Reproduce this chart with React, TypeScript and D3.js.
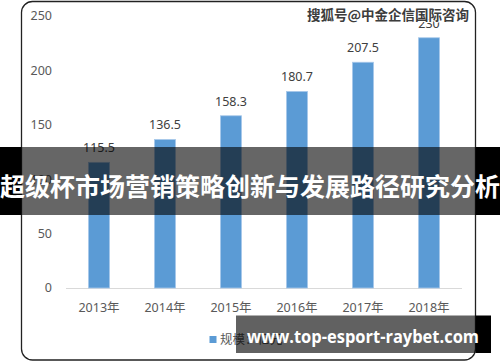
import React from "react";
import * as d3 from "d3";

const categories = ["2013年", "2014年", "2015年", "2016年", "2017年", "2018年"];
const values = [115.5, 136.5, 158.3, 180.7, 207.5, 230];
const valueLabels = ["115.5", "136.5", "158.3", "180.7", "207.5", "230"];
const yTicks = [0, 50, 100, 150, 200, 250];
const legendLabel = "规模：亿元";
const titleText = "超级杯市场营销策略创新与发展路径研究分析";
const watermarkText = "搜狐号@中金企信国际咨询";
const siteText = "www.top-esport-raybet.com";

const W = 500;
const H = 362;
const FONT = "'Noto Sans', 'Noto Sans CJK SC', sans-serif";

export default function App() {
  const x = d3
    .scaleBand<string>()
    .domain(categories)
    .range([66, 462])
    .paddingInner(0.68)
    .paddingOuter(0.34);
  const y = d3.scaleLinear().domain([0, 250]).range([288, 16]);

  const chartL = 21.5;
  const chartR = 475.5;

  return (
    <svg
      width={W}
      height={H}
      style={{ position: "absolute", left: 0, top: 0, background: "#fff" }}
      fontFamily={FONT}
    >
      <rect x={0} y={0} width={W} height={H} fill="#fff" />
      {/* chart frame */}
      <rect
        x={chartL}
        y={1.5}
        width={chartR - chartL}
        height={358.5}
        rx={11}
        ry={11}
        fill="#fff"
        stroke="#222"
        strokeWidth={1.3}
      />
      {/* y tick labels */}
      {yTicks.map((t) => (
        <text
          key={t}
          x={52}
          y={y(t)}
          dy="0.35em"
          textAnchor="end"
          fontSize={12.5}
          fill="#595959"
        >
          {t}
        </text>
      ))}
      {/* baseline */}
      <line x1={66} x2={462} y1={y(0) + 0.5} y2={y(0) + 0.5} stroke="#d9d9d9" strokeWidth={1} />
      {/* bars */}
      {categories.map((c, i) => (
        <rect
          key={c}
          x={x(c)!}
          y={y(values[i])}
          width={x.bandwidth()}
          height={y(0) - y(values[i])}
          fill="#5b9bd5"
          stroke="#a9c9ea"
          strokeWidth={0.8}
        />
      ))}
      {/* value labels */}
      {categories.map((c, i) => (
        <text
          key={c}
          x={x(c)! + x.bandwidth() / 2}
          y={y(values[i]) - 10}
          textAnchor="middle"
          fontSize={12.5}
          fill="#404040"
        >
          {valueLabels[i]}
        </text>
      ))}
      {/* x labels */}
      {categories.map((c) => (
        <text
          key={c}
          x={x(c)! + x.bandwidth() / 2}
          y={307.5}
          dy="0.35em"
          textAnchor="middle"
          fontSize={12.5}
          fill="#595959"
        >
          {c}
        </text>
      ))}
      {/* legend */}
      <rect x={209.5} y={336} width={7} height={7} fill="#5b9bd5" />
      <text x={220} y={339.5} dy="0.35em" fontSize={12.5} fill="#595959">
        {legendLabel}
      </text>
      {/* watermark */}
      <text
        x={388}
        y={15}
        dy="0.35em"
        textAnchor="middle"
        fontSize={13.5}
        fontWeight="bold"
        fill="#3c3c3c"
        stroke="#fff"
        strokeWidth={2}
        paintOrder="stroke"
        fontFamily="'Noto Sans CJK SC', sans-serif"
      >
        {watermarkText}
      </text>
      {/* title band */}
      <rect x={0} y={147} width={chartL} height={68} fill="#000" />
      <rect x={chartR} y={147} width={W - chartR} height={68} fill="#000" />
      <rect x={chartL} y={147} width={chartR - chartL} height={68} fill="#000" fillOpacity={0.6} />
      <text
        x={250}
        y={185}
        dominantBaseline="central"
        textAnchor="middle"
        fontSize={25}
        fontWeight="bold"
        fill="#fff"
        fontFamily="'Noto Sans CJK SC', sans-serif"
      >
        {titleText}
      </text>
      {/* site box */}
      <rect x={236} y={315.5} width={chartR - 236} height={37.5} fill="#000" fillOpacity={0.62} />
      <rect x={chartR} y={315.5} width={491 - chartR} height={37.5} fill="#000" />
      <text
        x={247}
        y={335}
        dominantBaseline="central"
        fontSize={18.5}
        fontWeight="bold"
        fill="#fff"
        textLength={232}
        lengthAdjust="spacingAndGlyphs"
        fontFamily="'Open Sans', 'Noto Sans', sans-serif"
      >
        {siteText}
      </text>
    </svg>
  );
}
